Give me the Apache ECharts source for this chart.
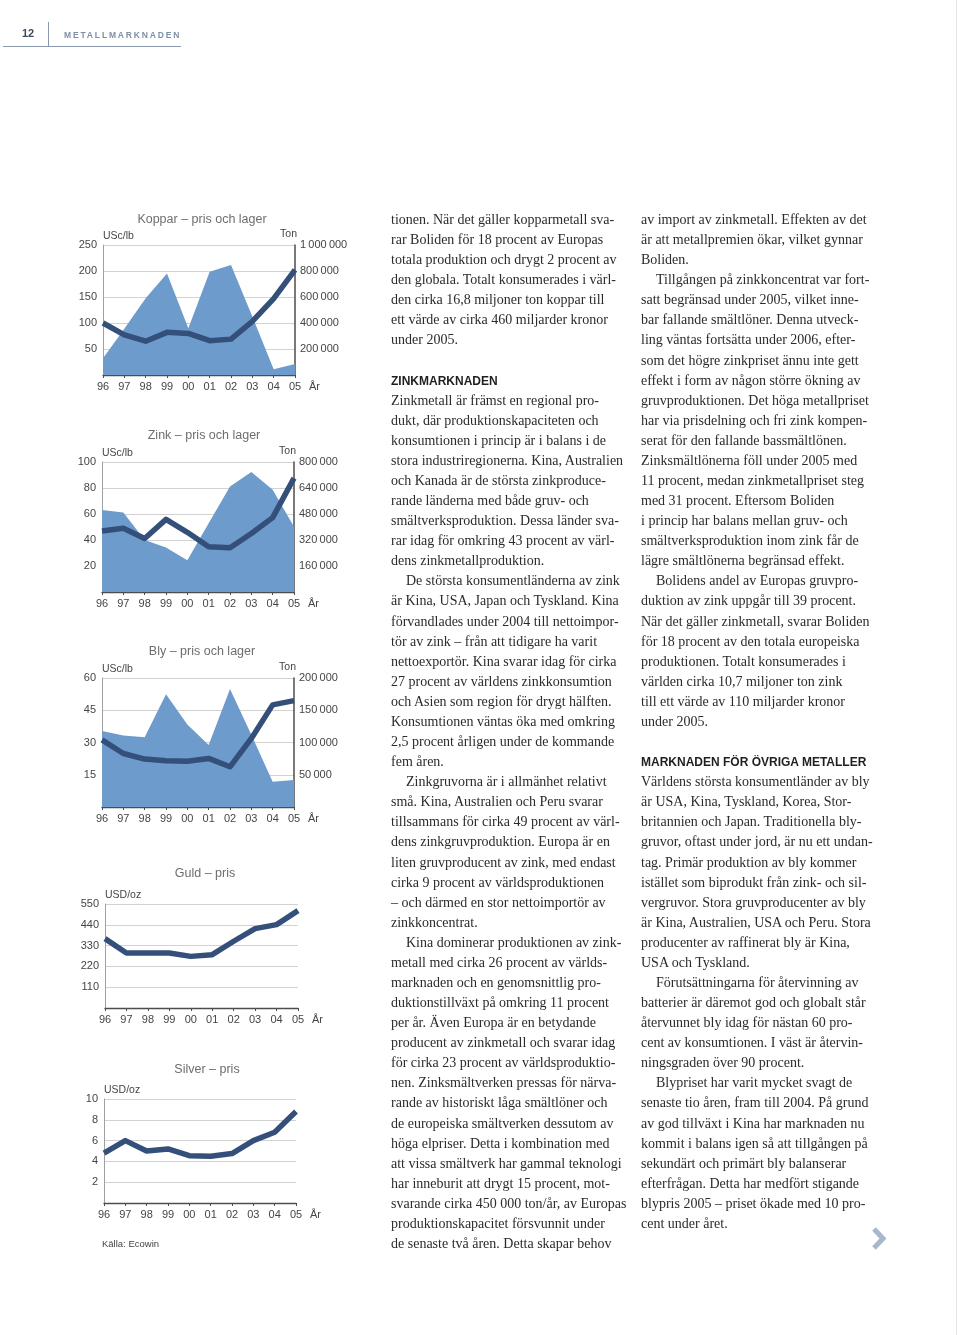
<!DOCTYPE html>
<html><head><meta charset="utf-8">
<script src="https://cdn.jsdelivr.net/npm/echarts@6/dist/echarts.min.js"></script>
<style>
html,body{margin:0;padding:0;background:#fff;}
#page{position:relative;width:960px;height:1335px;overflow:hidden;background:#fff;}
#chart{position:absolute;left:0;top:0;width:960px;height:1335px;}
.col{position:absolute;top:210px;width:240px;font-family:'Liberation Serif','Times New Roman',serif;font-size:14px;color:#2b2b2b;}
.ln{height:20.08px;line-height:20.08px;white-space:nowrap;}
.ind{padding-left:15px;}
.hd{font-family:'Liberation Sans',Arial,sans-serif;font-weight:bold;font-size:12px;color:#1f1f1f;}
#pnum{position:absolute;left:22px;top:27px;font-family:'Liberation Sans',Arial,sans-serif;font-weight:bold;font-size:11px;color:#3b4a60;}
#vline{position:absolute;left:48px;top:22px;width:1px;height:24px;background:#8a98ab;}
#hline{position:absolute;left:3px;top:46px;width:178px;height:1px;background:#8a98ab;}
#sect{position:absolute;left:64px;top:30px;font-family:'Liberation Sans',Arial,sans-serif;font-weight:bold;font-size:8.5px;letter-spacing:1.85px;color:#7f8fa5;}
#edge{position:absolute;left:956px;top:0;width:1px;height:1335px;background:#e4e4e4;}
</style></head>
<body><div id="page"><div id="chart"></div>
<div id="edge"></div>
<div id="pnum">12</div><div id="vline"></div><div id="hline"></div><div id="sect">METALLMARKNADEN</div>
<div class="col" id="c1" style="left:391px"></div>
<div class="col" id="c2" style="left:641px"></div>
</div>
<script>
// ---------- data ----------
const years = ['96','97','98','99','00','01','02','03','04','05'];
const kopparPris  = [100, 77, 65, 82, 80, 66, 69, 103, 147, 202];
const kopparLager = [128000, 355000, 590000, 780000, 360000, 795000, 846000, 450000, 44000, 85000];
const zinkPris    = [46.9, 49, 41.2, 55.9, 45.9, 34.8, 34, 45, 57.2, 87.6];
const zinkLager   = [505000, 489000, 320000, 274000, 196000, 423000, 650000, 738000, 629000, 402000];
const blyPris     = [31.2, 24.9, 22.3, 21.5, 21.3, 22.6, 18.7, 31.9, 47.5, 49.5];
const blyLager    = [118000, 111000, 108000, 175000, 128000, 96000, 183000, 112000, 39000, 42000];
const guldPris    = [367, 291, 291, 291, 273, 282, 353, 420, 441, 515];
const silverPris  = [4.8, 6.0, 5.0, 5.2, 4.55, 4.5, 4.75, 6.0, 6.8, 8.8];

const titles = ['Koppar – pris och lager','Zink – pris och lager','Bly – pris och lager','Guld – pris','Silver – pris'];
const leftUnits = ['USc/lb','USc/lb','USc/lb','USD/oz','USD/oz'];
const rightUnit = 'Ton';
const leftScale  = [[250,50],[100,20],[60,15],[550,110],[10,2]];
const rightScale = [[1000000,200000],[800000,160000],[200000,50000],null,null];
const priceSeries = [kopparPris, zinkPris, blyPris, guldPris, silverPris];
const lagerSeries = [kopparLager, zinkLager, blyLager, null, null];

const col1 = [
'tionen. När det gäller kopparmetall sva-',
'rar Boliden för 18 procent av Europas',
'totala produktion och drygt 2 procent av',
'den globala. Totalt konsumerades i värl-',
'den cirka 16,8 miljoner ton koppar till',
'ett värde av cirka 460 miljarder kronor',
'under 2005.',
'',
'#ZINKMARKNADEN',
'Zinkmetall är främst en regional pro-',
'dukt, där produktionskapaciteten och',
'konsumtionen i princip är i balans i de',
'stora industriregionerna. Kina, Australien',
'och Kanada är de största zinkproduce-',
'rande länderna med både gruv- och',
'smältverksproduktion. Dessa länder sva-',
'rar idag för omkring 43 procent av värl-',
'dens zinkmetallproduktion.',
'>De största konsumentländerna av zink',
'är Kina, USA, Japan och Tyskland. Kina',
'förvandlades under 2004 till nettoimpor-',
'tör av zink – från att tidigare ha varit',
'nettoexportör. Kina svarar idag för cirka',
'27 procent av världens zinkkonsumtion',
'och Asien som region för drygt hälften.',
'Konsumtionen väntas öka med omkring',
'2,5 procent årligen under de kommande',
'fem åren.',
'>Zinkgruvorna är i allmänhet relativt',
'små. Kina, Australien och Peru svarar',
'tillsammans för cirka 49 procent av värl-',
'dens zinkgruvproduktion. Europa är en',
'liten gruvproducent av zink, med endast',
'cirka 9 procent av världsproduktionen',
'– och därmed en stor nettoimportör av',
'zinkkoncentrat.',
'>Kina dominerar produktionen av zink-',
'metall med cirka 26 procent av världs-',
'marknaden och en genomsnittlig pro-',
'duktionstillväxt på omkring 11 procent',
'per år. Även Europa är en betydande',
'producent av zinkmetall och svarar idag',
'för cirka 23 procent av världsproduktio-',
'nen. Zinksmältverken pressas för närva-',
'rande av historiskt låga smältlöner och',
'de europeiska smältverken dessutom av',
'höga elpriser. Detta i kombination med',
'att vissa smältverk har gammal teknologi',
'har inneburit att drygt 15 procent, mot-',
'svarande cirka 450 000 ton/år, av Europas',
'produktionskapacitet försvunnit under',
'de senaste två åren. Detta skapar behov'
];
const col2 = [
'av import av zinkmetall. Effekten av det',
'är att metallpremien ökar, vilket gynnar',
'Boliden.',
'>Tillgången på zinkkoncentrat var fort-',
'satt begränsad under 2005, vilket inne-',
'bar fallande smältlöner. Denna utveck-',
'ling väntas fortsätta under 2006, efter-',
'som det högre zinkpriset ännu inte gett',
'effekt i form av någon större ökning av',
'gruvproduktionen. Det höga metallpriset',
'har via prisdelning och fri zink kompen-',
'serat för den fallande bassmältlönen.',
'Zinksmältlönerna föll under 2005 med',
'11 procent, medan zinkmetallpriset steg',
'med 31 procent. Eftersom Boliden',
'i princip har balans mellan gruv- och',
'smältverksproduktion inom zink får de',
'lägre smältlönerna begränsad effekt.',
'>Bolidens andel av Europas gruvpro-',
'duktion av zink uppgår till 39 procent.',
'När det gäller zinkmetall, svarar Boliden',
'för 18 procent av den totala europeiska',
'produktionen. Totalt konsumerades i',
'världen cirka 10,7 miljoner ton zink',
'till ett värde av 110 miljarder kronor',
'under 2005.',
'',
'#MARKNADEN FÖR ÖVRIGA METALLER',
'Världens största konsumentländer av bly',
'är USA, Kina, Tyskland, Korea, Stor-',
'britannien och Japan. Traditionella bly-',
'gruvor, oftast under jord, är nu ett undan-',
'tag. Primär produktion av bly kommer',
'istället som biprodukt från zink- och sil-',
'vergruvor. Stora gruvproducenter av bly',
'är Kina, Australien, USA och Peru. Stora',
'producenter av raffinerat bly är Kina,',
'USA och Tyskland.',
'>Förutsättningarna för återvinning av',
'batterier är däremot god och globalt står',
'återvunnet bly idag för nästan 60 pro-',
'cent av konsumtionen. I väst är återvin-',
'ningsgraden över 90 procent.',
'>Blypriset har varit mycket svagt de',
'senaste tio åren, fram till 2004. På grund',
'av god tillväxt i Kina har marknaden nu',
'kommit i balans igen så att tillgången på',
'sekundärt och primärt bly balanserar',
'efterfrågan. Detta har medfört stigande',
'blypris 2005 – priset ökade med 10 pro-',
'cent under året.'
];

// ---------- text columns ----------
function fillCol(id, lines){
  const el = document.getElementById(id);
  lines.forEach(function(s){
    const d = document.createElement('div');
    d.className = 'ln';
    if (s.charAt(0) === '#') { d.className += ' hd'; d.textContent = s.slice(1); }
    else if (s.charAt(0) === '>') { d.className += ' ind'; d.textContent = s.slice(1); }
    else { d.textContent = s || '\u00a0'; }
    el.appendChild(d);
  });
}
fillCol('c1', col1);
fillCol('c2', col2);

// ---------- charts ----------
const FONT = "'Liberation Sans', Arial, sans-serif";
const grids = [
  {left:103, top:245, width:192, height:130},
  {left:102, top:462, width:192, height:130},
  {left:102, top:678, width:192, height:129},
  {left:105, top:904, width:193, height:104},
  {left:104, top:1099, width:192, height:104}
];
const titlePos = [[197,208],[199,424],[197,640],[200,862],[202,1058]];
const AREA = '#6d9bcb', LINE = '#344f79';

function fmtThousands(v){
  if (v === 0) return '';
  return String(v).replace(/\B(?=(\d{3})+(?!\d))/g, '\u2009');
}

const option = {
  animation:false,
  backgroundColor:'transparent',
  textStyle:{fontFamily:FONT},
  title:[], grid:[], xAxis:[], yAxis:[], series:[],
  graphic:[
    {type:'text', left:102, top:1239, style:{text:'Källa: Ecowin', fontFamily:FONT, fontSize:9.5, fill:'#444', letterSpacing:0.3}},
    {type:'polyline', shape:{points:[[874,1229],[883,1238.5],[874,1248]]},
     style:{stroke:'#a8b7cb', lineWidth:5, fill:null, lineJoin:'miter'}}
  ]
};

let yIdx = 0;
for (let i = 0; i < 5; i++){
  option.grid.push(Object.assign({containLabel:false}, grids[i]));
  option.title.push({
    text:titles[i], left:titlePos[i][0], top:titlePos[i][1], textAlign:'center',
    textStyle:{fontFamily:FONT, fontSize:12.5, fontWeight:'normal', color:'#6e6e6e'}
  });
  option.xAxis.push({
    type:'category', gridIndex:i, data:years, boundaryGap:false,
    axisLine:{show:true, lineStyle:{color:'#4d4d4d', width:1.3}},
    axisTick:{show:true, length:3, lineStyle:{color:'#4d4d4d'}},
    axisLabel:{interval:0, color:'#454545', fontSize:11, margin:6, fontFamily:FONT},
    splitLine:{show:false},
    name:'År', nameLocation:'end', nameGap:14,
    nameTextStyle:{color:'#454545', fontSize:11, fontFamily:FONT, align:'left', verticalAlign:'top', padding:[6,0,0,0]}
  });
  const leftIdx = yIdx++;
  option.yAxis.push({
    type:'value', gridIndex:i, position:'left', min:0, max:leftScale[i][0], interval:leftScale[i][1],
    axisLine:{show:true, lineStyle:{color:'#a0a0a0', width:1}},
    axisTick:{show:false},
    splitLine:{show:true, lineStyle:{color:'#d2d2d2', width:1}},
    axisLabel:{color:'#454545', fontSize:11, margin:6, fontFamily:FONT, formatter:function(v){return v===0?'':String(v);}},
    name:leftUnits[i], nameLocation:'end', nameGap:3,
    nameTextStyle:{color:'#454545', fontSize:10.5, fontFamily:FONT, align:'left'}
  });
  let rightIdx = null;
  if (rightScale[i]){
    rightIdx = yIdx++;
    option.yAxis.push({
      type:'value', gridIndex:i, position:'right', min:0, max:rightScale[i][0], interval:rightScale[i][1],
      axisLine:{show:true, lineStyle:{color:'#4d4d4d', width:1.5}},
      axisTick:{show:false},
      splitLine:{show:false},
      axisLabel:{color:'#454545', fontSize:11, margin:5, fontFamily:FONT, formatter:fmtThousands},
      name:rightUnit, nameLocation:'end', nameGap:3,
      nameTextStyle:{color:'#454545', fontSize:10.5, fontFamily:FONT, align:'right', padding:[0,-2,0,0]}
    });
    option.series.push({
      type:'line', xAxisIndex:i, yAxisIndex:rightIdx, data:lagerSeries[i],
      symbol:'none', color:AREA, lineStyle:{width:0, color:AREA},
      areaStyle:{color:AREA, opacity:1}, z:1
    });
  }
  option.series.push({
    type:'line', xAxisIndex:i, yAxisIndex:leftIdx, data:priceSeries[i],
    symbol:'none', color:LINE, lineStyle:{width:5.5, color:LINE, join:'round'}, z:3
  });
}

const chart = echarts.init(document.getElementById('chart'), null, {renderer:'canvas'});
chart.setOption(option);
</script>
</body></html>
